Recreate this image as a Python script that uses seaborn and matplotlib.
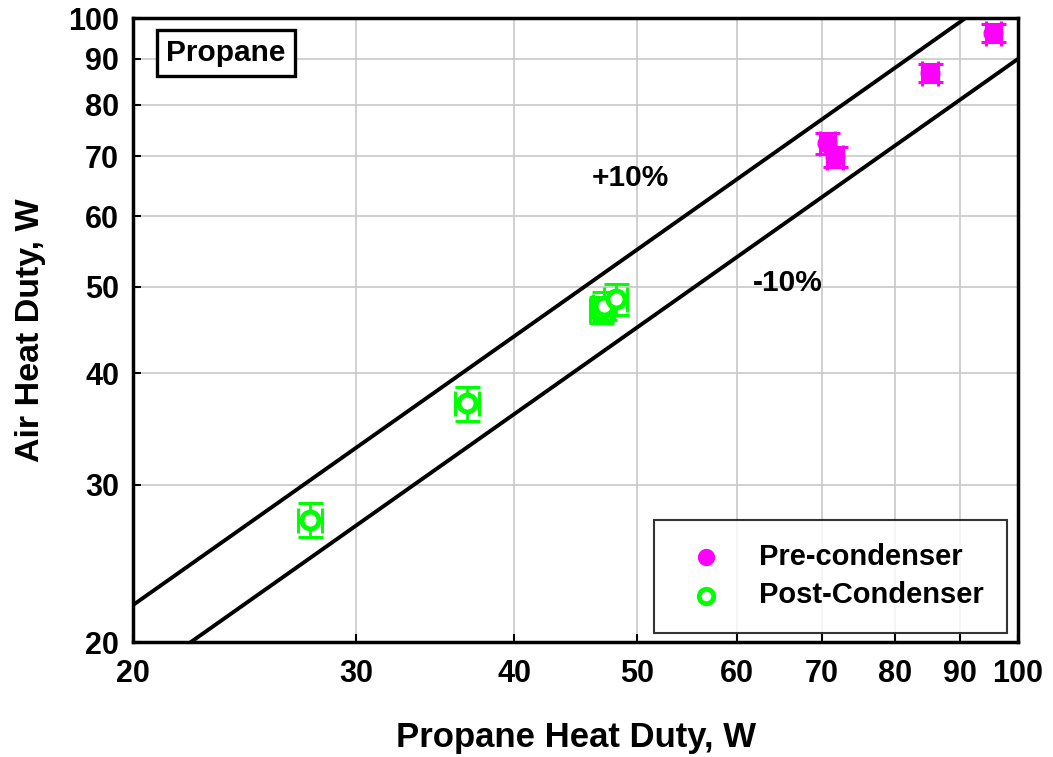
import matplotlib
matplotlib.use("Agg")
import matplotlib.pyplot as plt
import seaborn as sns
import numpy as np
import pandas as pd
from matplotlib.ticker import FixedLocator, NullLocator, FixedFormatter

# Data
pre_x = [95.6, 85.2, 70.7, 71.7]
pre_y = [96.2, 86.8, 72.4, 69.9]
pre_xerr = [1.3, 1.2, 1.0, 1.0]
pre_yerr = [2.2, 2.0, 1.9, 1.8]

post_x = [27.6, 36.7, 46.8, 47.1, 48.1]
post_y = [27.4, 37.0, 47.1, 47.6, 48.4]
post_xerr = [0.6, 0.8, 0.9, 0.9, 1.0]
post_yerr = [1.2, 1.6, 1.6, 1.7, 1.9]

ticks = [20, 30, 40, 50, 60, 70, 80, 90, 100]
band_x = [20, 100]
band_factor_hi = 1.1
band_factor_lo = 0.9

sns.set_style("white")
plt.rcParams['font.family'] = ['Liberation Sans', 'DejaVu Sans']
plt.rcParams['font.weight'] = 'bold'
plt.rcParams['text.color'] = 'black'
plt.rcParams['axes.labelcolor'] = 'black'
plt.rcParams['xtick.color'] = 'black'
plt.rcParams['ytick.color'] = 'black'

fig = plt.figure(figsize=(10.53, 7.57), dpi=100)
ax = fig.add_axes([0.1263, 0.1519, 0.9668 - 0.1263, 0.9762 - 0.1519])

df = pd.concat([
    pd.DataFrame({"x": pre_x, "y": pre_y, "Series": "Pre-condenser"}),
    pd.DataFrame({"x": post_x, "y": post_y, "Series": "Post-Condenser"}),
])

ax.set_xscale("log")
ax.set_yscale("log")

# reference lines
bx = np.array(band_x, dtype=float)
ax.plot(bx, bx * band_factor_hi, color="black", lw=2.8, zorder=2)
ax.plot(bx, bx * band_factor_lo, color="black", lw=2.8, zorder=2)

# error bars
ax.errorbar(pre_x, pre_y, xerr=pre_xerr, yerr=pre_yerr, fmt="none",
            ecolor="#ff00ff", elinewidth=2, capsize=9, capthick=2.2, zorder=3)
ax.errorbar(post_x, post_y, xerr=post_xerr, yerr=post_yerr, fmt="none",
            ecolor="#00ff00", elinewidth=2, capsize=9, capthick=2.2, zorder=3)

sns.scatterplot(data=df[df.Series == "Pre-condenser"], x="x", y="y", ax=ax,
                color="#ff00ff", marker="o", s=180, edgecolor="#ff00ff",
                linewidth=1, label="Pre-condenser", zorder=4)
sns.scatterplot(data=df[df.Series == "Post-Condenser"], x="x", y="y", ax=ax,
                facecolor="white", marker="o", s=150, edgecolor="#00ff00",
                linewidth=3.5, label="Post-Condenser", zorder=4)

ax.set_xlim(20, 100)
ax.set_ylim(20, 100)

ax.xaxis.set_major_locator(FixedLocator(ticks))
ax.yaxis.set_major_locator(FixedLocator(ticks))
ax.xaxis.set_minor_locator(NullLocator())
ax.yaxis.set_minor_locator(NullLocator())
ax.xaxis.set_major_formatter(FixedFormatter([str(t) for t in ticks]))
ax.yaxis.set_major_formatter(FixedFormatter([str(t) for t in ticks]))

ax.grid(True, color="#c8c8c8", lw=1.2, zorder=0)
ax.set_axisbelow(True)
for s in ax.spines.values():
    s.set_visible(True)
    s.set_linewidth(2.5)
    s.set_color("black")

ax.tick_params(axis="both", which="major", direction="in", length=6, width=1.5,
               labelsize=22, bottom=True, left=True, top=False, right=False)
ax.tick_params(axis="x", pad=12)
ax.tick_params(axis="y", pad=10)
for lab in ax.get_xticklabels() + ax.get_yticklabels():
    lab.set_fontweight("bold")
    lab.set_color("black")

ax.set_xlabel("Propane Heat Duty, W", fontsize=25, fontweight="bold", labelpad=23)
ax.set_ylabel("Air Heat Duty, W", fontsize=24.5, fontweight="bold", labelpad=16)

fig.text(630 / 1053, 1 - 178 / 757, "+10%", fontsize=21.5, fontweight="bold",
         ha="center", va="center")
fig.text(788 / 1053, 1 - 283 / 757, "-10%", fontsize=21.5, fontweight="bold",
         ha="center", va="center")
fig.text(226 / 1053, 1 - 53 / 757, "Propane", fontsize=21.5, fontweight="bold",
         ha="center", va="center",
         bbox=dict(boxstyle="square,pad=0.3", facecolor="white",
                   edgecolor="black", linewidth=2.4))

leg = ax.legend(loc="lower right", bbox_to_anchor=(0.9875, 0.015),
                frameon=True, fancybox=False, handletextpad=0.8,
                borderpad=0.8, labelspacing=0.35, borderaxespad=0.0,
                markerscale=0.85,
                prop={"weight": "bold", "size": 21})
leg.get_frame().set_edgecolor("black")
leg.get_frame().set_linewidth(1.5)
for t in leg.get_texts():
    t.set_color("black")

fig.savefig("out.png", dpi=100)
